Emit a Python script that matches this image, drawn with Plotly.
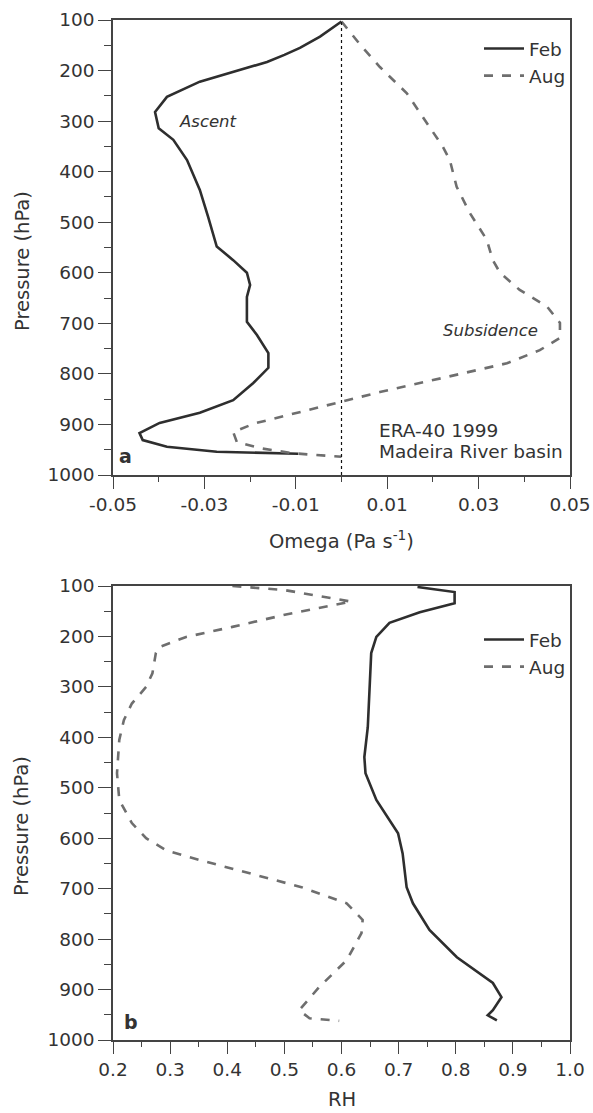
import plotly.graph_objects as go

W, H = 593, 1113

# ---- Panel a: Omega (Pa s-1) vs pressure ----
feb_omega_p = [103, 133, 155, 169, 183, 203, 222, 252, 282, 314, 337, 377, 436, 489, 548, 575,
               600, 624, 648, 697, 723, 759, 788, 818, 852, 877, 897, 917, 931, 944, 954, 958]
feb_omega = [0, -0.0047, -0.0091, -0.0125, -0.0163, -0.0237, -0.031, -0.0382, -0.0408, -0.040,
             -0.0368, -0.0338, -0.031, -0.0292, -0.0273, -0.0237, -0.0207, -0.020, -0.0207, -0.0207,
             -0.0185, -0.016, -0.016, -0.0193, -0.0237, -0.031, -0.0398, -0.0442, -0.0435, -0.0382,
             -0.0273, -0.0095]
aug_omega_p = [103, 149, 193, 245, 292, 351, 377, 430, 482, 535, 575, 600, 634, 667, 699, 729,
               753, 779, 806, 836, 855, 875, 898, 915, 935, 947, 957, 960, 964]
aug_omega = [0, 0.0041, 0.0084, 0.0143, 0.0178, 0.0222, 0.0237, 0.0252, 0.0281, 0.0318, 0.0331,
             0.0347, 0.039, 0.045, 0.0478, 0.0478, 0.0434, 0.0362, 0.0231, 0.0084, 0, -0.0091,
             -0.019, -0.0237, -0.0229, -0.0178, -0.0106, -0.0062, 0]

# ---- Panel b: RH vs pressure ----
feb_rh_p = [102, 112, 134, 152, 173, 201, 233, 306, 380, 439, 471, 524, 564, 590, 630, 697, 729,
            782, 836, 887, 915, 941, 951, 961]
feb_rh = [0.733, 0.798, 0.798, 0.737, 0.684, 0.661, 0.652, 0.649, 0.646, 0.640, 0.642, 0.661,
          0.684, 0.699, 0.707, 0.714, 0.725, 0.754, 0.802, 0.865, 0.880, 0.865, 0.856, 0.872]
aug_rh_p = [100, 108, 131, 156, 181, 201, 221, 233, 273, 300, 333, 366, 405, 471, 524, 570, 600,
            624, 643, 669, 697, 729, 762, 788, 842, 895, 941, 957, 962]
aug_rh = [0.409, 0.50, 0.617, 0.505, 0.409, 0.328, 0.281, 0.275, 0.269, 0.258, 0.233, 0.219,
          0.211, 0.207, 0.211, 0.233, 0.258, 0.293, 0.351, 0.439, 0.53, 0.609, 0.637, 0.635,
          0.609, 0.561, 0.526, 0.544, 0.596]

omega_ticks = [-0.05, -0.03, -0.01, 0.01, 0.03, 0.05]
omega_ticktext = ["-0.05", "-0.03", "-0.01", "0.01", "0.03", "0.05"]
rh_ticks = [0.2, 0.3, 0.4, 0.5, 0.6, 0.7, 0.8, 0.9, 1.0]
rh_ticktext = ["0.2", "0.3", "0.4", "0.5", "0.6", "0.7", "0.8", "0.9", "1.0"]
p_ticks = [100, 200, 300, 400, 500, 600, 700, 800, 900, 1000]

FONT = "DejaVu Sans"
AXC = "#444444"
TXT = "#333333"
FEBC = "#2e2e2e"
AUGC = "#6e6e6e"


def px_x(px):
    return px / W


def px_y(py):
    return 1 - py / H


fig = go.Figure()
fig.add_trace(go.Scatter(x=feb_omega, y=feb_omega_p, mode="lines", name="Feb",
                         line=dict(color=FEBC, width=2.6), xaxis="x", yaxis="y", legend="legend"))
fig.add_trace(go.Scatter(x=aug_omega, y=aug_omega_p, mode="lines", name="Aug",
                         line=dict(color=AUGC, width=2.6, dash="dash"), xaxis="x", yaxis="y",
                         legend="legend"))
fig.add_trace(go.Scatter(x=feb_rh, y=feb_rh_p, mode="lines", name="Feb",
                         line=dict(color=FEBC, width=2.6), xaxis="x2", yaxis="y2", legend="legend2"))
fig.add_trace(go.Scatter(x=aug_rh, y=aug_rh_p, mode="lines", name="Aug",
                         line=dict(color=AUGC, width=2.6, dash="dash"), xaxis="x2", yaxis="y2",
                         legend="legend2"))

common_axis = dict(showline=True, linecolor=AXC, linewidth=1.6, mirror=True, ticks="outside",
                   tickwidth=1.4, tickcolor=AXC, showgrid=False, zeroline=False,
                   automargin=False,
                   tickfont=dict(family=FONT, size=18.5, color=TXT))

minor_y = dict(tickvals=[150, 250, 350, 450, 550, 650, 750, 850, 950], ticklen=7,
               tickcolor=AXC, ticks="outside", tickwidth=1.4)

xdom = [px_x(113), px_x(570)]
fig.update_layout(
    width=W, height=H, margin=dict(l=0, r=0, t=0, b=0, autoexpand=False),
    paper_bgcolor="white", plot_bgcolor="white",
    font=dict(family=FONT, color=TXT),
    xaxis=dict(domain=xdom, anchor="y", range=[-0.05, 0.05], tickvals=omega_ticks,
               ticktext=omega_ticktext, ticklen=12,
               minor=dict(tickvals=[-0.04, -0.02, 0, 0.02, 0.04], ticklen=5, tickcolor=AXC,
                          ticks="outside", tickwidth=1.4),
               **common_axis),
    yaxis=dict(domain=[px_y(475), px_y(20)], anchor="x", range=[1000, 100], tickvals=p_ticks,
               ticklen=13, minor=minor_y, **common_axis),
    xaxis2=dict(domain=xdom, anchor="y2", range=[0.2, 1.0], tickvals=rh_ticks,
                ticktext=rh_ticktext, ticklen=12,
                minor=dict(tickvals=[0.25, 0.35, 0.45, 0.55, 0.65, 0.75, 0.85, 0.95], ticklen=5,
                           tickcolor=AXC, ticks="outside", tickwidth=1.4),
                **common_axis),
    yaxis2=dict(domain=[px_y(1040), px_y(586)], anchor="x2", range=[1000, 100], tickvals=p_ticks,
                ticklen=13, minor=minor_y, **common_axis),
    legend=dict(x=px_x(571), y=px_y(30), xanchor="right", yanchor="top",
                bgcolor="rgba(0,0,0,0)", font=dict(family=FONT, size=18.5, color=TXT),
                tracegroupgap=0, itemwidth=40),
    legend2=dict(x=px_x(571), y=px_y(621), xanchor="right", yanchor="top",
                 bgcolor="rgba(0,0,0,0)", font=dict(family=FONT, size=18.5, color=TXT),
                 tracegroupgap=0, itemwidth=40),
    showlegend=True,
)

# zero reference line in panel a
fig.add_shape(type="line", xref="x", yref="y domain", x0=0, x1=0, y0=0, y1=1,
              line=dict(color="#111111", width=1.2, dash="dot"))

annots = [
    dict(text="Ascent", x=px_x(208), y=px_y(121), font=dict(size=16.5, style="italic")),
    dict(text="Subsidence", x=px_x(490), y=px_y(330), font=dict(size=16.5, style="italic")),
    dict(text="ERA-40 1999", x=px_x(377), y=px_y(430), xanchor="left", font=dict(size=18.5)),
    dict(text="Madeira River basin", x=px_x(377), y=px_y(452), xanchor="left",
         font=dict(size=18.5)),
    dict(text="<b>a</b>", x=px_x(125), y=px_y(456), font=dict(size=19)),
    dict(text="<b>b</b>", x=px_x(131), y=px_y(1022), font=dict(size=19)),
    dict(text="Omega (Pa s<sup>-1</sup>)", x=px_x(341), y=px_y(540), font=dict(size=19.5)),
    dict(text="RH", x=px_x(342), y=px_y(1099), font=dict(size=19.5)),
    dict(text="Pressure (hPa)", x=px_x(22), y=px_y(261), textangle=-90, font=dict(size=19.5)),
    dict(text="Pressure (hPa)", x=px_x(22), y=px_y(826), textangle=-90, font=dict(size=19.5)),
]
for a in annots:
    f = dict(family=FONT, color=TXT)
    f.update(a.pop("font"))
    a.setdefault("xanchor", "center")
    fig.add_annotation(xref="paper", yref="paper", yanchor="middle", showarrow=False, font=f, **a)

fig.write_html("out.html")
